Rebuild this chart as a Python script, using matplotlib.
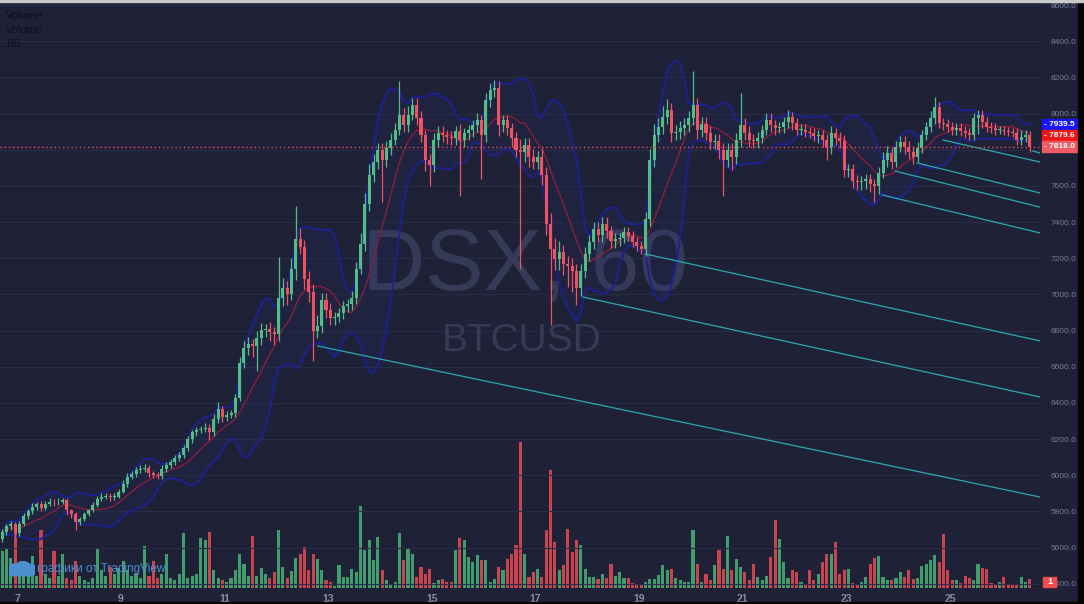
import matplotlib.pyplot as plt
import matplotlib.patches as mpatches
import matplotlib.transforms as mtransforms
import numpy as np
import pandas as pd

# 2-hour candles, BTCUSD on DSX, 6 Dec 16:00 .. 26 Dec
first_open = 5650
closes = [
    5685, 5718, 5730, 5680, 5730, 5773, 5800, 5827, 5840, 5822, 5844, 5855,
    5850, 5855, 5862, 5806, 5784, 5740, 5756, 5784, 5806, 5838, 5871, 5882,
    5888, 5880, 5882, 5910, 5953, 5992, 6008, 6030, 6036, 6040, 6014, 6003,
    5997, 6036, 6058, 6074, 6096, 6112, 6150, 6200, 6238, 6249, 6255, 6262,
    6238, 6310, 6364, 6321, 6332, 6343, 6430, 6622, 6704, 6726, 6715, 6759,
    6803, 6808, 6792, 6781, 6978, 7033, 7000, 7142, 7307, 7263, 7088, 7016,
    6797, 6825, 6967, 6912, 6869, 6875, 6896, 6934, 6945, 6978, 7142, 7279,
    7499, 7663, 7734, 7800, 7745, 7811, 7855, 7909, 7992, 7937, 7992, 8046,
    7975, 7882, 7745, 7718, 7855, 7893, 7882, 7871, 7866, 7904, 7855, 7893,
    7909, 7937, 7964, 7882, 8074, 8129, 8140, 7937, 7964, 7920, 7866, 7800,
    7790, 7827, 7762, 7734, 7762, 7663, 7389, 7252, 7197, 7236, 7170, 7159,
    7131, 7033, 7131, 7225, 7290, 7362, 7329, 7389, 7351, 7296, 7307, 7312,
    7345, 7323, 7290, 7268, 7252, 7416, 7745, 7882, 7926, 7981, 8019, 7893,
    7898, 7920, 7937, 7975, 8046, 7909, 7942, 7893, 7844, 7849, 7800, 7745,
    7800, 7762, 7855, 7937, 7893, 7855, 7849, 7866, 7909, 7964, 7937, 7920,
    7925, 7953, 7981, 7948, 7909, 7912, 7898, 7893, 7877, 7882, 7855, 7816,
    7893, 7866, 7849, 7690, 7692, 7630, 7619, 7625, 7636, 7608, 7597, 7674,
    7745, 7783, 7734, 7816, 7844, 7816, 7789, 7762, 7811, 7882, 7926, 7975,
    8036, 7948, 7942, 7926, 7909, 7920, 7904, 7893, 7882, 7975, 7992, 7953,
    7926, 7920, 7909, 7912, 7904, 7898, 7893, 7855, 7871, 7882, 7818,
]
wick_up = [
    20, 15, 20, 10, 15, 20, 15, 20, 15, 20, 15, 20,
    15, 20, 15, 10, 10, 15, 15, 15, 10, 15, 15, 20,
    15, 15, 20, 15, 20, 20, 15, 15, 20, 25, 15, 10,
    15, 20, 15, 15, 15, 15, 20, 20, 15, 20, 20, 25,
    20, 30, 40, 20, 25, 20, 20, 30, 40, 40, 30, 40,
    40, 30, 40, 30, 230, 60, 40, 60, 181, 60, 40, 40,
    40, 60, 40, 40, 40, 30, 30, 30, 30, 40, 40, 60,
    60, 60, 40, 40, 40, 40, 40, 40, 190, 40, 50, 40,
    40, 40, 30, 30, 40, 40, 40, 30, 30, 30, 40, 30,
    30, 30, 40, 30, 40, 40, 45, 40, 30, 30, 30, 30,
    60, 40, 40, 40, 30, 40, 40, 60, 60, 60, 40, 40,
    40, 40, 40, 40, 40, 40, 40, 40, 40, 30, 30, 30,
    30, 30, 30, 30, 30, 40, 60, 60, 50, 60, 60, 40,
    40, 40, 40, 40, 192, 40, 40, 40, 40, 40, 40, 40,
    40, 40, 40, 175, 40, 40, 30, 30, 30, 40, 40, 30,
    30, 30, 40, 30, 30, 30, 30, 30, 30, 30, 30, 30,
    40, 30, 30, 30, 30, 30, 30, 30, 30, 30, 30, 30,
    40, 40, 30, 30, 30, 30, 30, 30, 30, 30, 30, 40,
    54, 30, 30, 30, 30, 30, 30, 30, 30, 30, 30, 30,
    30, 30, 30, 20, 20, 20, 20, 30, 40, 30, 20,
]
wick_dn = [
    20, 15, 20, 25, 15, 10, 15, 15, 20, 20, 15, 15,
    20, 15, 15, 25, 20, 40, 15, 10, 10, 10, 15, 15,
    15, 20, 15, 10, 10, 15, 15, 15, 15, 20, 25, 20,
    20, 15, 15, 15, 15, 15, 15, 15, 20, 20, 15, 15,
    40, 20, 20, 25, 20, 15, 20, 20, 30, 40, 60, 137,
    40, 40, 50, 60, 40, 40, 60, 30, 60, 40, 60, 60,
    164, 40, 40, 40, 40, 40, 30, 30, 30, 30, 30, 30,
    40, 40, 40, 40, 235, 40, 40, 30, 30, 40, 40, 30,
    40, 40, 60, 120, 40, 40, 40, 40, 40, 40, 313, 40,
    40, 40, 40, 246, 40, 40, 40, 60, 40, 40, 50, 40,
    648, 60, 60, 40, 40, 60, 60, 422, 60, 60, 60, 120,
    120, 93, 40, 40, 40, 40, 40, 40, 40, 40, 40, 40,
    30, 30, 30, 30, 30, 40, 40, 40, 40, 40, 40, 50,
    40, 40, 40, 40, 40, 50, 40, 40, 40, 40, 50, 203,
    40, 72, 40, 40, 40, 40, 40, 40, 30, 30, 40, 40,
    30, 30, 30, 40, 30, 30, 30, 30, 30, 40, 40, 71,
    40, 40, 40, 40, 40, 40, 40, 40, 40, 40, 87, 40,
    30, 40, 40, 30, 30, 40, 40, 40, 30, 30, 30, 30,
    30, 30, 30, 30, 30, 30, 30, 30, 30, 30, 90, 30,
    30, 30, 30, 20, 20, 20, 20, 30, 30, 30, 30,
]
volumes = [
    37, 40, 30, 58, 17, 12, 15, 32, 12, 58, 14, 10,
    37, 12, 34, 10, 8, 27, 12, 8, 6, 10, 39, 18,
    12, 21, 14, 20, 27, 18, 12, 15, 10, 42, 12, 27,
    10, 14, 34, 10, 8, 14, 55, 10, 12, 14, 50, 48,
    56, 18, 10, 8, 6, 10, 18, 34, 24, 12, 52, 12,
    20, 14, 10, 16, 58, 21, 10, 17, 30, 34, 41, 18,
    34, 29, 18, 8, 6, 2, 23, 11, 11, 19, 16, 82,
    38, 48, 28, 51, 18, 8, 4, 6, 55, 28, 39, 34,
    11, 21, 14, 19, 5, 8, 9, 6, 6, 38, 50, 48,
    31, 26, 33, 28, 28, 6, 9, 21, 18, 29, 34, 43,
    146, 34, 11, 16, 19, 11, 58, 118, 46, 18, 23, 59,
    36, 48, 43, 19, 11, 11, 9, 14, 10, 24, 12, 16,
    10, 10, 5, 3, 3, 6, 9, 9, 13, 23, 18, 19,
    10, 8, 6, 6, 58, 24, 6, 14, 8, 23, 38, 19,
    52, 18, 29, 21, 16, 8, 24, 11, 8, 12, 31, 68,
    49, 26, 10, 18, 16, 6, 4, 18, 8, 14, 26, 34,
    34, 46, 14, 18, 19, 5, 4, 6, 11, 24, 30, 32,
    11, 8, 8, 10, 16, 11, 18, 9, 10, 22, 24, 28,
    33, 26, 54, 18, 8, 8, 5, 12, 10, 8, 24, 20,
    19, 5, 4, 6, 11, 4, 4, 4, 11, 6, 9,
]
day_labels = [7, 9, 11, 13, 15, 17, 19, 21, 23, 25]
price_ticks = list(range(5400, 8601, 200))
hidden_ticks = [7800]  # sits under the last-price marker

# trend lines (candle index, price) -> run to right edge
trend_start_i = [73.1, 134.5, 148.9, 203.8, 206.8, 211.9, 217.9, 238.7]
trend_start_p = [6715, 6986, 7224, 7550, 7682, 7727, 7854, 7793]
trend_end_p = [5880, 6433, 6743, 7340, 7483, 7561, 7732, 7782]

label_values = [7939.5, 7879.6, 7818.0]
label_colors = ['#1717f5', '#ee1515', '#f05a64']
last_volume = 1

BG = '#1f2237'
GREEN = '#53bd88'
RED = '#ef5260'
plt.rcParams['font.family'] = ['Liberation Sans', 'DejaVu Sans']

n = len(closes)
idx = np.arange(n)
df = pd.DataFrame({'open': [first_open] + closes[:-1], 'close': closes,
                   'up': wick_up, 'dn': wick_dn, 'vol': volumes})
df['high'] = df[['open', 'close']].max(axis=1) + df['up']
df['low'] = df[['open', 'close']].min(axis=1) - df['dn']
rising = (df['close'] >= df['open']).values

basis = df['close'].rolling(10, min_periods=1).mean()
dev = df['close'].rolling(10, min_periods=1).std(ddof=0)
upper = basis + 2 * dev
lower = basis - 2 * dev

W, H = 1084, 604
fig = plt.figure(figsize=(W / 100, H / 100), dpi=100, facecolor=BG)
rect = [0, 16 / H, 1040 / W, 588 / H]
xlim = (-0.5, 1040 / 4.318 - 0.5)

ax_v = fig.add_axes(rect, facecolor=BG)
ax_v.set_xlim(*xlim)
ax_v.set_ylim(0, 588)
ax_v.bar(idx, df['vol'], width=0.72, bottom=0,
         color=np.where(rising, '#3f9d6e', '#c8444f'), linewidth=0)
ax_v.axis('off')

ax = fig.add_axes(rect)
ax.patch.set_alpha(0)
ax.set_xlim(*xlim)
ax.set_ylim(5377, 8628)
for s in ax.spines.values():
    s.set_visible(False)

for p in price_ticks:
    ax.axhline(p, color='#282c44', lw=0.8, zorder=0)

ax.text(0.505, 0.545, 'DSX, 60', transform=ax.transAxes, fontsize=63,
        color='#353a57', ha='center', va='center', zorder=0.5)
ax.text(0.502, 0.42, 'BTCUSD', transform=ax.transAxes, fontsize=28,
        color='#353a57', ha='center', va='center', zorder=0.5)

# Bollinger bands
ax.fill_between(idx, lower, upper, color='#2a36a8', alpha=0.08, lw=0, zorder=1)
ax.plot(idx, upper, color='#1c2192', lw=1.4, zorder=1.2)
ax.plot(idx, lower, color='#1c2192', lw=1.4, zorder=1.2)
ax.plot(idx, basis, color='#86203a', lw=1.0, zorder=1.3)

for i0, p0, p1 in zip(trend_start_i, trend_start_p, trend_end_p):
    ax.plot([i0, xlim[1]], [p0, p1], color='#2aa9b0', lw=0.9, zorder=1.5)

# candles
cols = np.where(rising, GREEN, RED)
ax.vlines(idx, df['low'], df['high'], colors=cols, lw=0.9, zorder=2)
body = np.maximum((df['close'] - df['open']).abs(), 5)
ax.bar(idx, body, bottom=df[['open', 'close']].min(axis=1), width=0.7,
       color=cols, linewidth=0, zorder=2.1)

ax.axhline(closes[-1], color='#e8505b', lw=1, ls=(0, (1, 2)), zorder=2.5)

ax.yaxis.tick_right()
ax.set_yticks(price_ticks)
ax.set_yticklabels(['' if p in hidden_ticks else f'{p:.1f}' for p in price_ticks])
ax.tick_params(axis='y', length=0, pad=7.5, labelsize=6, labelcolor='#787d92')
ax.set_xticks([3.5 + (d - 7) * 12 for d in day_labels])
ax.set_xticklabels([str(d) for d in day_labels], fontweight='bold')
ax.tick_params(axis='x', length=0, pad=4, labelsize=7.5, labelcolor='#8a8ea0')

# price labels at right axis
trans = mtransforms.blended_transform_factory(ax.transAxes, ax.transData)
for val, c in zip(label_values, label_colors):
    ax.add_patch(mpatches.Rectangle((1 + 2 / 1040, val - 30), 36 / 1040, 60,
                                    transform=trans, color=c, clip_on=False, zorder=5))
    ax.text(1 + 4 / 1040, val, f'- {val:.1f}', transform=trans, color='white',
            fontsize=6, fontweight='bold', va='center', ha='left',
            clip_on=False, zorder=6)

# last volume box
fig.patches.append(mpatches.Rectangle((1043 / W, 17 / H), 13 / W, 10 / H,
                                      transform=fig.transFigure, color='#ef4d4d', zorder=5))
fig.text(1049.5 / W, 22 / H, str(last_volume), color='white', fontsize=6.5,
         fontweight='bold', ha='center', va='center', zorder=6)

# legend titles
for k, t in enumerate(['Volume', 'Volume', 'BB']):
    fig.text(6 / W, 1 - (16 + 14 * k) / H, t, color='#0d0f18', fontsize=8, va='center')

# TradingView mark
fig.patches.append(mpatches.FancyBboxPatch((13 / W, 30 / H), 18 / W, 8 / H,
                                           boxstyle='round,pad=0.003', transform=fig.transFigure,
                                           color='#4a8fce', zorder=5))
fig.patches.append(mpatches.Circle((23 / W, 39 / H), 6 / W, transform=fig.transFigure,
                                   color='#4a8fce', zorder=5))
fig.text(37 / W, 35 / H, 'графики от TradingView', color='#4a8fce', fontsize=8.5,
         va='center', ha='left', zorder=6)

# frame
fig.patches.append(mpatches.Rectangle((1078 / W, 0), 6 / W, 1, transform=fig.transFigure,
                                      color='#050505', zorder=10))
fig.patches.append(mpatches.Rectangle((0, 0), 1, 2 / H, transform=fig.transFigure,
                                      color='#050505', zorder=10))
fig.patches.append(mpatches.Rectangle((0, 1 - 2 / H), 1, 2 / H, transform=fig.transFigure,
                                      color='#c9c9c9', zorder=10))

fig.savefig('out.png', dpi=100, facecolor=BG)
